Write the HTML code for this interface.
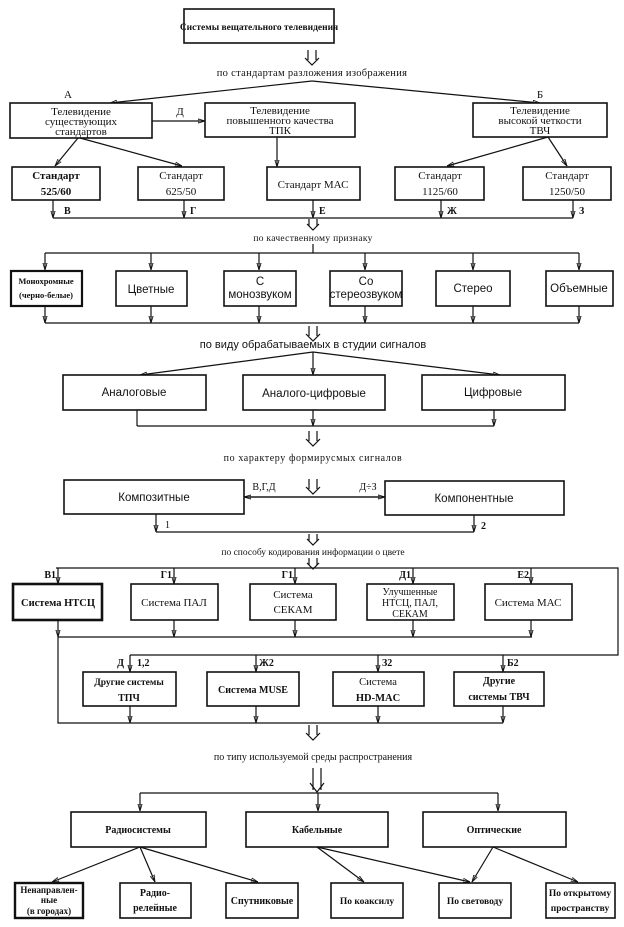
<!DOCTYPE html>
<html><head><meta charset="utf-8"><style>
html,body{margin:0;padding:0;background:#fff;}
svg{display:block;}
text{font-family:"Liberation Serif",serif;font-size:11px;fill:#111;text-anchor:middle;}
.s{font-family:"Liberation Sans",sans-serif;font-size:11.5px;}
.b{font-weight:bold;}
rect{fill:#fff;stroke:#111;stroke-width:1.6;}
line,polyline,path{stroke:#111;stroke-width:1.2;fill:none;}
</style></head><body>
<svg width="624" height="927" viewBox="0 0 624 927" xmlns="http://www.w3.org/2000/svg">
<defs>
<marker id="a" viewBox="0 0 10 10" refX="10" refY="5" markerWidth="7" markerHeight="7" orient="auto" markerUnits="userSpaceOnUse"><path d="M0,2 L10,5 L0,8 z" fill="#111" stroke="none"/></marker>
<g id="dd"><path d="M-4,0 V10 M4,0 V10 M-7,8 L0,15 L7,8" stroke="#111" stroke-width="1.2" fill="none"/></g>
<g id="ds"><path d="M-4,0 V7 M4,0 V7 M-6,5 L0,11 L6,5" stroke="#111" stroke-width="1.2" fill="none"/></g>
</defs>

<!-- Top -->
<rect x="184" y="9" width="150" height="34"/>
<text x="259" y="30" style="font-size:9.5px;font-weight:bold">Системы вещательного телевидения</text>
<use href="#dd" x="312" y="50"/>
<text x="312" y="76" style="font-size:10.5px;letter-spacing:0.3px">по стандартам разложения изображения</text>
<line x1="312" y1="81" x2="110" y2="103" marker-end="url(#a)"/>
<line x1="312" y1="81" x2="540" y2="103" marker-end="url(#a)"/>
<text x="68" y="98">А</text>
<text x="540" y="98">Б</text>

<rect x="10" y="103" width="142" height="35"/>
<text x="81" y="115">Телевидение</text>
<text x="81" y="125">существующих</text>
<text x="81" y="135">стандартов</text>
<line x1="152" y1="121" x2="205" y2="121" marker-end="url(#a)"/>
<text x="180" y="115">Д</text>
<rect x="205" y="103" width="150" height="34"/>
<text x="280" y="114">Телевидение</text>
<text x="280" y="124">повышенного качества</text>
<text x="280" y="134">ТПК</text>
<rect x="473" y="103" width="134" height="34"/>
<text x="540" y="114">Телевидение</text>
<text x="540" y="124">высокой четкости</text>
<text x="540" y="134">ТВЧ</text>

<line x1="78" y1="138" x2="55" y2="166" marker-end="url(#a)"/>
<line x1="80" y1="138" x2="182" y2="166" marker-end="url(#a)"/>
<line x1="277" y1="137" x2="277" y2="167" marker-end="url(#a)"/>
<line x1="548" y1="137" x2="447" y2="166" marker-end="url(#a)"/>
<line x1="548" y1="137" x2="567" y2="166" marker-end="url(#a)"/>

<rect x="12" y="167" width="88" height="33"/>
<text x="56" y="179" class="b">Стандарт</text><text x="56" y="195" class="b">525/60</text>
<rect x="138" y="167" width="86" height="33"/>
<text x="181" y="179">Стандарт</text><text x="181" y="195">625/50</text>
<rect x="267" y="167" width="93" height="33"/>
<text x="313" y="188">Стандарт МАС</text>
<rect x="395" y="167" width="89" height="33"/>
<text x="440" y="179">Стандарт</text><text x="440" y="195">1125/60</text>
<rect x="523" y="167" width="88" height="33"/>
<text x="567" y="179">Стандарт</text><text x="567" y="195">1250/50</text>

<polyline points="53,218 573,218"/>
<line x1="53" y1="200" x2="53" y2="218" marker-end="url(#a)"/>
<line x1="184" y1="200" x2="184" y2="218" marker-end="url(#a)"/>
<line x1="313" y1="200" x2="313" y2="218" marker-end="url(#a)"/>
<line x1="441" y1="200" x2="441" y2="218" marker-end="url(#a)"/>
<line x1="573" y1="200" x2="573" y2="218" marker-end="url(#a)"/>
<text x="64" y="214" class="b" style="text-anchor:start;font-size:10px">В</text>
<text x="190" y="214" class="b" style="text-anchor:start;font-size:10px">Г</text>
<text x="319" y="214" class="b" style="text-anchor:start;font-size:10px">Е</text>
<text x="447" y="214" class="b" style="text-anchor:start;font-size:10px">Ж</text>
<text x="579" y="214" class="b" style="text-anchor:start;font-size:10px">З</text>
<use href="#ds" x="313" y="219"/>
<text x="313" y="241" style="font-size:9.5px;letter-spacing:0.3px">по качественному признаку</text>

<!-- quality row -->
<line x1="313" y1="244" x2="313" y2="253"/>
<polyline points="45,253 579,253"/>
<line x1="45" y1="253" x2="45" y2="270" marker-end="url(#a)"/>
<line x1="151" y1="253" x2="151" y2="270" marker-end="url(#a)"/>
<line x1="259" y1="253" x2="259" y2="270" marker-end="url(#a)"/>
<line x1="365" y1="253" x2="365" y2="270" marker-end="url(#a)"/>
<line x1="473" y1="253" x2="473" y2="270" marker-end="url(#a)"/>
<line x1="579" y1="253" x2="579" y2="270" marker-end="url(#a)"/>
<rect x="11" y="271" width="71" height="35" style="stroke-width:2.2"/>
<text x="46" y="284" class="b" style="font-size:8.5px">Монохромные</text>
<text x="46" y="298" class="b" style="font-size:8.5px">(черно-белые)</text>
<rect x="116" y="271" width="71" height="35"/>
<text x="151" y="293" class="s">Цветные</text>
<rect x="224" y="271" width="72" height="35"/>
<text x="260" y="285" class="s">С</text><text x="260" y="298" class="s">монозвуком</text>
<rect x="330" y="271" width="72" height="35"/>
<text x="366" y="285" class="s">Со</text><text x="366" y="298" class="s">стереозвуком</text>
<rect x="436" y="271" width="74" height="35"/>
<text x="473" y="292" class="s">Стерео</text>
<rect x="546" y="271" width="67" height="35"/>
<text x="579" y="292" class="s">Объемные</text>
<polyline points="45,323 579,323"/>
<line x1="45" y1="306" x2="45" y2="323" marker-end="url(#a)"/>
<line x1="151" y1="306" x2="151" y2="323" marker-end="url(#a)"/>
<line x1="259" y1="306" x2="259" y2="323" marker-end="url(#a)"/>
<line x1="365" y1="306" x2="365" y2="323" marker-end="url(#a)"/>
<line x1="473" y1="306" x2="473" y2="323" marker-end="url(#a)"/>
<line x1="579" y1="306" x2="579" y2="323" marker-end="url(#a)"/>
<use href="#dd" x="313" y="326"/>
<text x="313" y="348" class="s" style="font-size:11px">по виду обрабатываемых в студии сигналов</text>
<line x1="313" y1="352" x2="140" y2="375" marker-end="url(#a)"/>
<line x1="313" y1="352" x2="313" y2="375" marker-end="url(#a)"/>
<line x1="313" y1="352" x2="500" y2="375" marker-end="url(#a)"/>
<rect x="63" y="375" width="143" height="35"/>
<text x="134" y="396" class="s">Аналоговые</text>
<rect x="243" y="375" width="142" height="35"/>
<text x="314" y="397" class="s">Аналого-цифровые</text>
<rect x="422" y="375" width="143" height="35"/>
<text x="493" y="396" class="s">Цифровые</text>
<polyline points="137,426 494,426"/>
<line x1="137" y1="410" x2="137" y2="426"/>
<line x1="313" y1="410" x2="313" y2="426" marker-end="url(#a)"/>
<line x1="494" y1="410" x2="494" y2="426" marker-end="url(#a)"/>
<use href="#dd" x="313" y="431"/>
<text x="313" y="461" style="font-size:10px;letter-spacing:0.6px">по характеру формирусмых сигналов</text>

<rect x="64" y="480" width="180" height="34"/>
<text x="154" y="501" class="s">Композитные</text>
<rect x="385" y="481" width="179" height="34"/>
<text x="474" y="502" class="s">Компонентные</text>
<line x1="385" y1="497" x2="244" y2="497" marker-end="url(#a)"/>
<line x1="244" y1="497" x2="385" y2="497" marker-end="url(#a)"/>
<text x="264" y="490" style="font-size:10px">В,Г,Д</text>
<text x="368" y="490" style="font-size:10px">Д÷З</text>
<use href="#dd" x="313" y="479"/>
<line x1="156" y1="514" x2="156" y2="532" marker-end="url(#a)"/>
<line x1="474" y1="515" x2="474" y2="532" marker-end="url(#a)"/>
<polyline points="156,532 474,532"/>
<text x="165" y="528" style="text-anchor:start;font-size:10px">1</text>
<text x="481" y="529" class="b" style="text-anchor:start;font-size:10px">2</text>
<use href="#ds" x="313" y="534"/>
<text x="313" y="555" style="font-size:9.5px">по способу кодирования  информации о цвете</text>
<use href="#ds" x="313" y="558"/>

<!-- coding row -->
<polyline points="56,568 618,568 618,655 130,655"/>
<line x1="58" y1="568" x2="58" y2="584" marker-end="url(#a)"/>
<line x1="174" y1="568" x2="174" y2="584" marker-end="url(#a)"/>
<line x1="295" y1="568" x2="295" y2="584" marker-end="url(#a)"/>
<line x1="413" y1="568" x2="413" y2="584" marker-end="url(#a)"/>
<line x1="531" y1="568" x2="531" y2="584" marker-end="url(#a)"/>
<text x="56" y="578" class="b" style="text-anchor:end;font-size:10px">В1</text>
<text x="172" y="578" class="b" style="text-anchor:end;font-size:10px">Г1</text>
<text x="293" y="578" class="b" style="text-anchor:end;font-size:10px">Г1</text>
<text x="411" y="578" class="b" style="text-anchor:end;font-size:10px">Д1</text>
<text x="529" y="578" class="b" style="text-anchor:end;font-size:10px">Е2</text>
<rect x="13" y="584" width="89" height="36" style="stroke-width:2.6"/>
<text x="58" y="606" class="b" style="font-size:10.5px">Система НТСЦ</text>
<rect x="131" y="584" width="87" height="36"/>
<text x="174" y="606">Система ПАЛ</text>
<rect x="250" y="584" width="86" height="36"/>
<text x="293" y="598">Система</text><text x="293" y="613">СЕКАМ</text>
<rect x="367" y="584" width="87" height="36"/>
<text x="410" y="595" style="font-size:10px">Улучшенные</text>
<text x="410" y="606" style="font-size:10px">НТСЦ, ПАЛ,</text>
<text x="410" y="617" style="font-size:10px">СЕКАМ</text>
<rect x="485" y="584" width="87" height="36"/>
<text x="528" y="606">Система МАС</text>
<polyline points="58,637 532,637"/>
<line x1="58" y1="620" x2="58" y2="637" marker-end="url(#a)"/>
<line x1="174" y1="620" x2="174" y2="637" marker-end="url(#a)"/>
<line x1="295" y1="620" x2="295" y2="637" marker-end="url(#a)"/>
<line x1="413" y1="620" x2="413" y2="637" marker-end="url(#a)"/>
<line x1="531" y1="620" x2="531" y2="637" marker-end="url(#a)"/>
<polyline points="58,637 58,723 503,723"/>
<line x1="130" y1="655" x2="130" y2="672" marker-end="url(#a)"/>
<line x1="256" y1="655" x2="256" y2="672" marker-end="url(#a)"/>
<line x1="378" y1="655" x2="378" y2="672" marker-end="url(#a)"/>
<line x1="503" y1="655" x2="503" y2="672" marker-end="url(#a)"/>
<text x="124" y="666" class="b" style="text-anchor:end;font-size:10px">Д</text>
<text x="137" y="666" class="b" style="text-anchor:start;font-size:10px">1,2</text>
<text x="259" y="666" class="b" style="text-anchor:start;font-size:10px">Ж2</text>
<text x="382" y="666" class="b" style="text-anchor:start;font-size:10px">З2</text>
<text x="507" y="666" class="b" style="text-anchor:start;font-size:10px">Б2</text>
<rect x="83" y="672" width="93" height="34"/>
<text x="129" y="685" class="b" style="font-size:9.5px">Другие системы</text>
<text x="129" y="701" class="b" style="font-size:10px">ТПЧ</text>
<rect x="207" y="672" width="92" height="34"/>
<text x="253" y="693" class="b" style="font-size:10px">Система MUSE</text>
<rect x="333" y="672" width="91" height="34"/>
<text x="378" y="685" style="font-size:10.5px">Система</text>
<text x="378" y="701" class="b" style="font-size:10.5px">HD-MAC</text>
<rect x="454" y="672" width="90" height="34"/>
<text x="499" y="684" class="b" style="font-size:10px">Другие</text>
<text x="499" y="700" class="b" style="font-size:10px">системы ТВЧ</text>
<line x1="130" y1="706" x2="130" y2="723" marker-end="url(#a)"/>
<line x1="256" y1="706" x2="256" y2="723" marker-end="url(#a)"/>
<line x1="378" y1="706" x2="378" y2="723" marker-end="url(#a)"/>
<line x1="503" y1="706" x2="503" y2="723" marker-end="url(#a)"/>
<use href="#dd" x="313" y="725"/>
<text x="313" y="760" style="font-size:10px">по типу используемой среды распространения</text>
<path d="M313,768 V790 M321,768 V790 M310,783 L317,792 L324,783"/>

<polyline points="140,793 498,793"/>
<line x1="140" y1="793" x2="140" y2="811" marker-end="url(#a)"/>
<line x1="318" y1="793" x2="318" y2="811" marker-end="url(#a)"/>
<line x1="498" y1="793" x2="498" y2="811" marker-end="url(#a)"/>
<rect x="71" y="812" width="135" height="35"/>
<text x="138" y="833" class="b" style="font-size:10px">Радиосистемы</text>
<rect x="246" y="812" width="142" height="35"/>
<text x="317" y="833" class="b" style="font-size:10px">Кабельные</text>
<rect x="423" y="812" width="143" height="35"/>
<text x="494" y="833" class="b" style="font-size:10px">Оптические</text>

<line x1="140" y1="847" x2="52" y2="882" marker-end="url(#a)"/>
<line x1="140" y1="847" x2="155" y2="882" marker-end="url(#a)"/>
<line x1="140" y1="847" x2="258" y2="882" marker-end="url(#a)"/>
<line x1="317" y1="847" x2="364" y2="882" marker-end="url(#a)"/>
<line x1="317" y1="847" x2="470" y2="882" marker-end="url(#a)"/>
<line x1="493" y1="847" x2="472" y2="882" marker-end="url(#a)"/>
<line x1="493" y1="847" x2="578" y2="882" marker-end="url(#a)"/>

<rect x="15" y="883" width="68" height="35" style="stroke-width:2.4"/>
<text x="49" y="893" class="b" style="font-size:9px">Ненаправлен-</text>
<text x="49" y="903" class="b" style="font-size:9px">ные</text>
<text x="49" y="914" class="b" style="font-size:9px">(в городах)</text>
<rect x="120" y="883" width="71" height="35"/>
<text x="155" y="896" class="b" style="font-size:10px">Радио-</text>
<text x="155" y="911" class="b" style="font-size:10px">релейные</text>
<rect x="226" y="883" width="72" height="35"/>
<text x="262" y="904" class="b" style="font-size:10px">Спутниковые</text>
<rect x="331" y="883" width="72" height="35"/>
<text x="367" y="904" class="b" style="font-size:9.5px">По коаксилу</text>
<rect x="439" y="883" width="72" height="35"/>
<text x="475" y="904" class="b" style="font-size:9.5px">По световоду</text>
<rect x="546" y="883" width="69" height="35"/>
<text x="580" y="896" class="b" style="font-size:9.5px">По открытому</text>
<text x="580" y="911" class="b" style="font-size:9.5px">пространству</text>
</svg>
</body></html>
